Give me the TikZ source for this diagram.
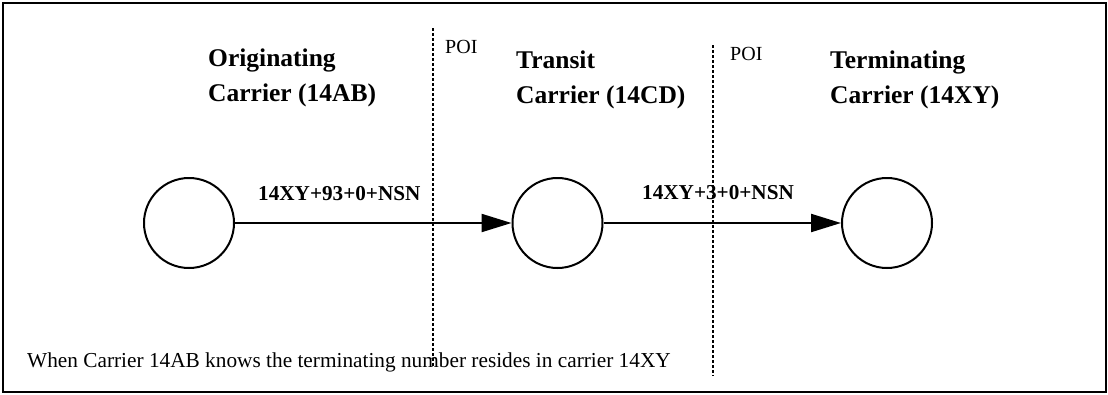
\documentclass[tikz,border=0pt]{standalone}
\usepackage{fontspec}
\setmainfont{Liberation Serif}
\usetikzlibrary{arrows.meta}
\begin{document}
\begin{tikzpicture}[x=1pt,y=-1pt,
  carrier/.style={circle,draw,line width=2pt,minimum size=90pt,inner sep=0pt},
  flow/.style={line width=2.2pt,-{Triangle[length=30pt,width=18pt]}},
  poiline/.style={line width=1.5pt,dash pattern=on 3pt off 2pt},
  title/.style={font=\fontsize{25.5}{35}\selectfont\bfseries,align=left,anchor=base west,inner sep=0pt},
  code/.style={font=\fontsize{21.2}{24}\selectfont\bfseries,anchor=base west,inner sep=0pt},
  poi/.style={font=\fontsize{20}{22}\selectfont,anchor=base west,inner sep=0pt},
  note/.style={font=\fontsize{21.3}{25}\selectfont,anchor=base west,inner sep=0pt}]
\useasboundingbox (0,0) rectangle (1108,394);
\draw[line width=2.2pt] (3,3) rectangle (1106,392);

% points of interconnection
\coordinate (poiA top) at (433,28);
\coordinate (poiA bot) at (433,366);
\coordinate (poiB top) at (713,45);
\coordinate (poiB bot) at (713,376);
\draw[poiline] (poiA top) -- (poiA bot);
\draw[poiline] (poiB top) -- (poiB bot);
\node[poi] (poiA) at (445,53) {POI};
\node[poi] (poiB) at (730,60) {POI};

% carrier headings (anchored on the baseline of the second line)
\node[title] (orig) at (208,101) {Originating\\Carrier (14AB)};
\node[title] (trans) at (516,103) {Transit\\Carrier (14CD)};
\node[title] (term) at (830,103) {Terminating\\Carrier (14XY)};

% switches and call path
\node[carrier] (c1) at (189,223) {};
\node[carrier] (c2) at (557.5,223) {};
\node[carrier] (c3) at (887,223) {};
\draw[flow] (c1) -- (c2);
\draw[flow] (c2) -- (c3);
\node[code] (d1) at (258,200) {14XY+93+0+NSN};
\node[code] (d2) at (642,199) {14XY+3+0+NSN};

\node[note] (cond) at (27,367) {When Carrier 14AB knows the terminating number resides in carrier 14XY};
\end{tikzpicture}
\end{document}
